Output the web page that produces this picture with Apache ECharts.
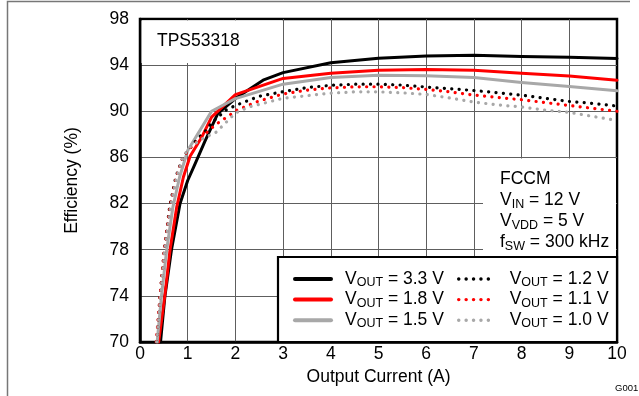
<!DOCTYPE html>
<html>
<head>
<meta charset="utf-8">
<script src="https://cdn.jsdelivr.net/npm/echarts@6/dist/echarts.min.js"></script>
<style>
html,body{margin:0;padding:0;background:#fff;}
#chart{width:639px;height:396px;}
</style>
</head>
<body>
<div id="chart"></div>
<script>
// ---- data (Output Current A, Efficiency %) ----
const vout33 = [[0.43,70],[0.52,73.9],[0.66,78],[0.84,82],[1.0,84],[1.15,85.4],[1.36,87.4],[1.63,89.8],[2.03,91.2],[2.58,92.7],[3.0,93.35],[4.0,94.2],[5.0,94.6],[6.0,94.8],[7.0,94.85],[8.0,94.75],[9.0,94.68],[10,94.58]];
const vout18 = [[0.39,70],[0.52,74],[0.63,78],[0.77,81.7],[0.91,84.3],[1.05,86.1],[1.3,87.8],[1.5,89.5],[2.0,91.45],[3.0,92.85],[4.0,93.3],[5.0,93.56],[6.0,93.63],[7.0,93.55],[8.0,93.3],[9.0,93.05],[10,92.7]];
const vout15 = [[0.36,70],[0.45,74],[0.56,78],[0.69,81.7],[0.83,84.3],[1.0,86.6],[1.5,90.0],[2.0,91.1],[3.0,92.35],[4.0,92.93],[5.0,93.13],[6.0,93.08],[7.0,92.93],[8.0,92.5],[9.0,92.15],[10,91.78]];
const vout12 = [[0.35,70],[0.42,74],[0.51,78],[0.62,81.7],[0.75,84.3],[0.9,86],[1.05,86.8],[1.2,87.6],[1.4,88.4],[1.5,89.0],[1.8,90.1],[2.0,90.5],[2.5,91.3],[3.0,91.7],[3.5,92.05],[4.0,92.25],[4.5,92.35],[5.0,92.35],[5.5,92.27],[6.0,92.1],[6.5,91.95],[7.0,91.8],[7.5,91.6],[8.0,91.4],[8.5,91.12],[9.0,90.85],[9.5,90.68],[10,90.45]];
const vout11 = [[0.34,70],[0.42,74],[0.51,78],[0.63,81.7],[0.76,84.3],[0.9,86],[1.05,86.8],[1.3,87.8],[1.57,88.8],[1.82,89.5],[2.03,90.1],[2.5,90.9],[3.0,91.5],[3.5,91.83],[4.0,92.03],[4.5,92.12],[5.0,92.13],[5.5,92.05],[6.0,91.9],[6.5,91.68],[7.0,91.4],[7.5,91.2],[8.0,91.0],[8.5,90.75],[9.0,90.5],[9.5,90.25],[10,90.0]];
const vout10 = [[0.35,70],[0.43,73.9],[0.52,78],[0.64,81.7],[0.77,84.3],[0.91,86.1],[1.05,86.9],[1.3,87.6],[1.6,88.2],[2.0,89.85],[2.3,90.4],[2.5,90.6],[3.0,91.13],[3.5,91.35],[4.0,91.57],[4.5,91.69],[5.0,91.69],[5.5,91.6],[6.0,91.46],[6.5,91.15],[7.0,90.8],[7.5,90.55],[8.0,90.37],[8.5,90.1],[9.0,89.9],[9.5,89.55],[10,89.2]];

const xMin = 0, xMax = 10, xStep = 1;
const yMin = 70, yMax = 98, yStep = 4;
const solidNames = ['3.3 V','1.8 V','1.5 V'];
const dottedNames = ['1.2 V','1.1 V','1.0 V'];
const xTitle = 'Output Current (A)';
const yTitle = 'Efficiency (%)';

const FONT = 'Liberation Sans, Arial, Helvetica, sans-serif';
const FS = 17.5;

function solid(name, data, color){
  return {name, type:'line', data, symbol:'none', smooth:false, z:3,
    lineStyle:{color, width:3, cap:'round', join:'round'}, itemStyle:{color}};
}
function dotted(name, data, color){
  return {name, type:'line', data, symbol:'none', smooth:false, z:4,
    lineStyle:{color, width:3.2, type:[0.1,7.3], cap:'round'}, itemStyle:{color}};
}

const richLegend = (padLeft) => ({
  v:{fontSize:FS, fontFamily:FONT, color:'#000', lineHeight:20, padding:[0,0,0,padLeft]},
  w:{fontSize:FS, fontFamily:FONT, color:'#000', lineHeight:20},
  s:{fontSize:12.5, fontFamily:FONT, color:'#000', lineHeight:11, verticalAlign:'bottom'}
});
const legendFmt = (name) => '{v|V}{s|OUT}{w| = ' + name + '}';

const chart = echarts.init(document.getElementById('chart'), null, {renderer:'canvas'});
chart.setOption({
  animation:false,
  backgroundColor:'#fff',
  grid:{left:140, right:22, top:19, bottom:54, show:true, borderColor:'#000', borderWidth:2.5, backgroundColor:'transparent'},
  xAxis:{type:'value', min:xMin, max:xMax, interval:xStep,
    name:xTitle, nameLocation:'middle', nameGap:22,
    nameTextStyle:{fontSize:FS, fontFamily:FONT, color:'#000'},
    axisLine:{show:true, lineStyle:{color:'#000', width:2.5}},
    axisTick:{show:false},
    axisLabel:{margin:3, fontSize:FS, fontFamily:FONT, color:'#000'},
    splitLine:{show:true, showMinLine:false, showMaxLine:false, lineStyle:{color:'#5e5e5e', width:1}}
  },
  yAxis:{type:'value', min:yMin, max:yMax, interval:yStep,
    name:yTitle, nameLocation:'middle', nameGap:59,
    nameTextStyle:{fontSize:FS, fontFamily:FONT, color:'#000'},
    axisLine:{show:true, lineStyle:{color:'#000', width:2.5}},
    axisTick:{show:false},
    axisLabel:{margin:11, fontSize:FS, fontFamily:FONT, color:'#000'},
    splitLine:{show:true, showMinLine:false, showMaxLine:false, lineStyle:{color:'#5e5e5e', width:1}}
  },
  legend:[
    {data:solidNames, orient:'vertical', left:293, top:270, padding:0, itemGap:1.6,
     itemWidth:36, itemHeight:14, z:10, formatter:legendFmt,
     itemStyle:{opacity:0}, lineStyle:{width:4},
     textStyle:{rich:richLegend(9)}},
    {data:dottedNames, orient:'vertical', left:457, top:270, padding:0, itemGap:1.6,
     itemWidth:36, itemHeight:14, z:10, formatter:legendFmt,
     itemStyle:{opacity:0}, lineStyle:{width:3.4},
     textStyle:{rich:richLegend(10)}}
  ],
  graphic:[
    {type:'polyline', shape:{points:[[7.5,396],[7.5,1.5],[630,1.5]]}, style:{stroke:'#777', lineWidth:1.5, fill:null}, z:1},
    {type:'rect', shape:{x:141.5, y:20.5, width:140.5, height:42.5}, style:{fill:'#fff'}, z:5},
    {type:'text', x:157, y:41, style:{text:'TPS53318', fontSize:FS, fontFamily:FONT, fill:'#000', verticalAlign:'middle'}, z:6},
    {type:'rect', shape:{x:483, y:158.5, width:133, height:98}, style:{fill:'#fff'}, z:5},
    {type:'rect', shape:{x:278, y:257, width:339, height:85}, style:{fill:'#fff', stroke:'#000', lineWidth:2.2}, z:5},
    {type:'text', x:500, y:169, z:6, style:{
      text:'{v|FCCM}\n{v|V}{s|IN}{v| = 12 V}\n{v|V}{s|VDD}{v| = 5 V}\n{v|f}{s|SW}{v| = 300 kHz}',
      verticalAlign:'top', fill:'#000',
      rich:{
        v:{fontSize:FS, fontFamily:FONT, fill:'#000', lineHeight:21},
        s:{fontSize:12.5, fontFamily:FONT, fill:'#000', lineHeight:11, verticalAlign:'bottom'}
      }}},
    {type:'text', x:615, y:388, z:6, style:{text:'G001', fontSize:9.5, fontFamily:FONT, fill:'#000', verticalAlign:'middle'}}
  ],
  series:[
    solid(solidNames[0], vout33, '#000000'),
    solid(solidNames[1], vout18, '#ff0000'),
    solid(solidNames[2], vout15, '#a8a8a8'),
    dotted(dottedNames[0], vout12, '#000000'),
    dotted(dottedNames[1], vout11, '#ff0000'),
    dotted(dottedNames[2], vout10, '#a8a8a8')
  ]
});
</script>
</body>
</html>
